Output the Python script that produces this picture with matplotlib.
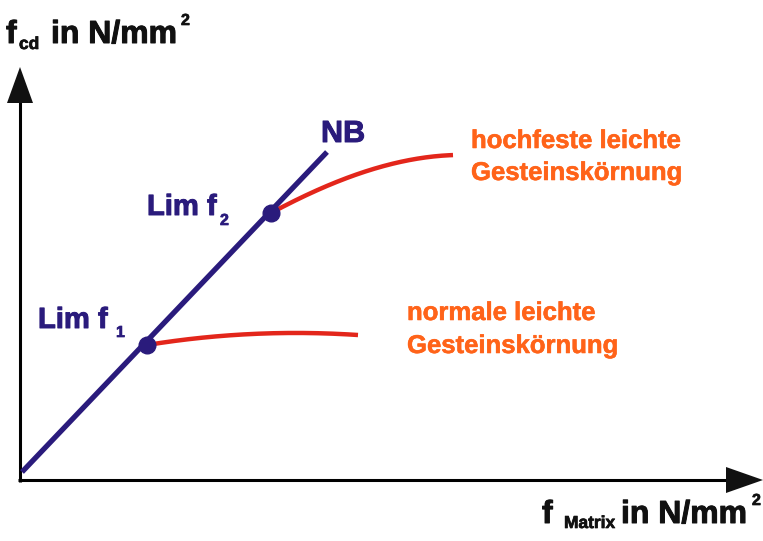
import matplotlib.pyplot as plt
import matplotlib.patheffects as pe
import numpy as np

# schematic values (arbitrary units, origin at the axis crossing)
nb_x = [2, 307]
nb_y = [8, 328]
lim_x = [127, 251]
lim_y = [135, 267]

# normale leichte Gesteinskoernung
norm_x = [127, 180, 213, 280, 338]
norm_y = [135, 142, 145, 147, 145]

# hochfeste leichte Gesteinskoernung
hoch_x = [251, 280, 310, 343, 380, 410, 433]
hoch_y = [267, 282, 295, 308, 318, 323, 325]

navy = '#2a1b7c'
red = '#e3261b'
orange = '#ff6319'
black = '#111111'
font = 'Liberation Sans'

W, H = 763, 541
fig = plt.figure(figsize=(W / 100, H / 100), dpi=100)
ax = fig.add_axes([0, 0, 1, 1])
ax.set_xlim(-20, W - 20)
ax.set_ylim(480 - H, 480)
ax.axis('off')


def at(px, py):
    # pixel position of the picture -> data coords
    return px - 20, 480 - py


# axes with arrow heads
ax.plot([-2, 710], [0, 0], color='black', lw=2.2, solid_capstyle='butt', zorder=1)
ax.plot([0, 0], [-2, 380], color='black', lw=2.2, solid_capstyle='butt', zorder=1)
ax.fill([706, 743, 706], [13, 0, -13], color=black, lw=0)
ax.fill([-13, 0, 13], [377, 413, 377], color=black, lw=0)


def smooth(xs, ys, n=200):
    c = np.polyfit(xs, ys, 3)
    xx = np.linspace(xs[0], xs[-1], n)
    return xx, np.polyval(c, xx)


ax.plot(nb_x, nb_y, color=navy, lw=3.8, solid_capstyle='butt', zorder=3)
xx, yy = smooth(norm_x, norm_y)
ax.plot(xx, yy, color=red, lw=3.2, solid_capstyle='butt', zorder=2)
xx, yy = smooth(hoch_x, hoch_y)
ax.plot(xx, yy, color=red, lw=3.2, solid_capstyle='butt', zorder=2)
ax.plot(lim_x, lim_y, 'o', color=navy, ms=12, zorder=4)


def label(px, py, s, size, color, fat=0.7):
    ax.text(*at(px, py), s, fontsize=size, color=color, fontfamily=font,
            fontweight='bold', va='baseline', ha='left',
            path_effects=[pe.withStroke(linewidth=fat, foreground=color)])


# axis labels
label(6, 43, 'f', 23, black)
label(19, 49, 'cd', 12.5, black, 0.5)
label(51, 43, 'in N/mm', 23, black)
label(181, 25, '2', 11.5, black, 0.5)

label(542, 523, 'f', 23, black)
label(564, 528, 'Matrix', 12.5, black, 0.5)
label(621, 523, 'in N/mm', 23, black)
label(752, 505, '2', 11.5, black, 0.5)

# blue labels
label(321, 142, 'NB', 22, navy)
label(38, 328, 'Lim f', 21, navy)
label(116, 337, '1', 11.5, navy, 0.5)
label(147, 215, 'Lim f', 21, navy)
label(220, 225, '2', 11.5, navy, 0.5)

# orange labels
label(471, 148, 'hochfeste leichte', 18.5, orange, 0.4)
label(471, 180, 'Gesteinskörnung', 18.5, orange, 0.4)
label(407, 320, 'normale leichte', 18.5, orange, 0.4)
label(407, 353, 'Gesteinskörnung', 18.5, orange, 0.4)

fig.savefig('out.png', dpi=100)
